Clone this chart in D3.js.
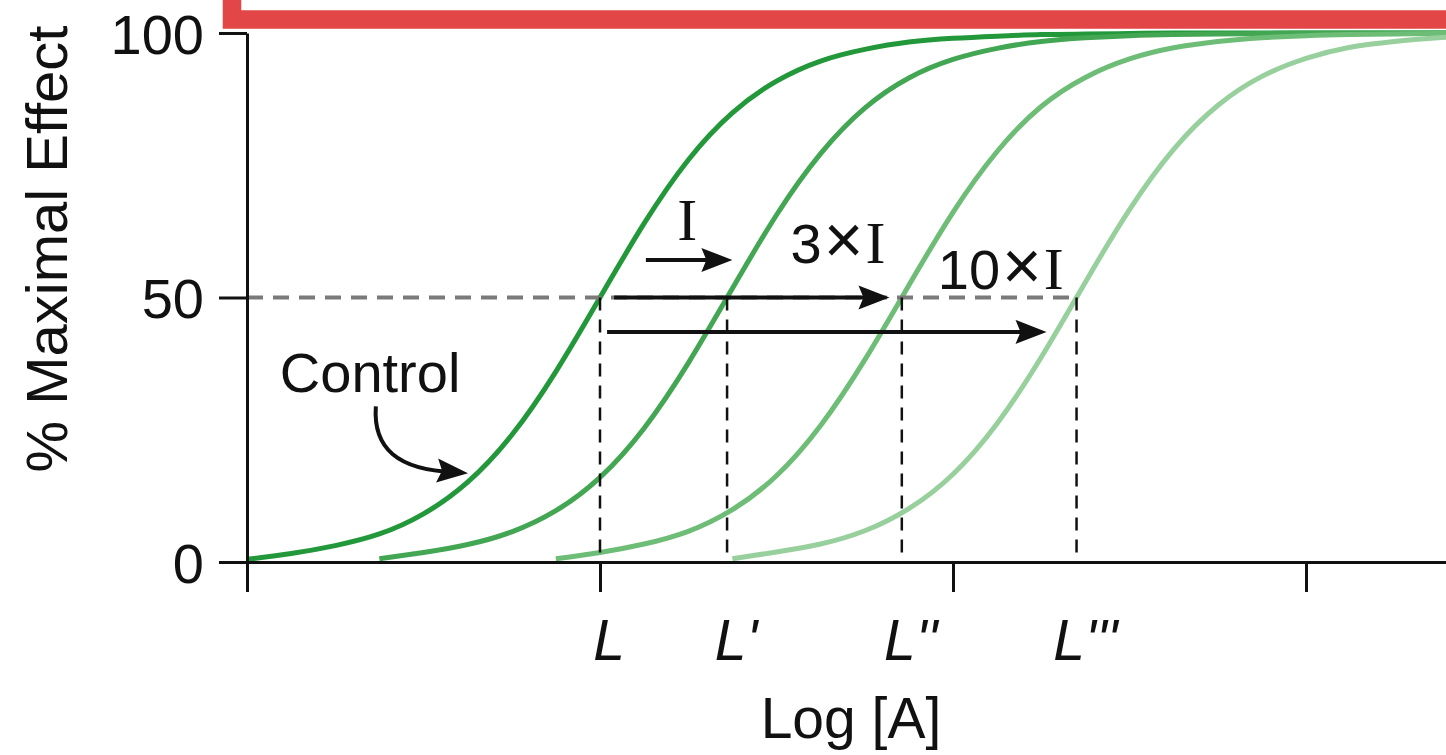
<!DOCTYPE html>
<html>
<head>
<meta charset="utf-8">
<script src="https://cdn.jsdelivr.net/npm/d3@7"></script>
<style>
  html, body { margin: 0; padding: 0; background: #fff; }
  svg { display: block; }
</style>
</head>
<body>
<svg id="chart" width="1446" height="755"></svg>
<script>
// Log agonist concentration (grid shared by all curves)
const logDose = [0, 0.125, 0.25, 0.375, 0.5, 0.625, 0.75, 0.875, 1.0, 1.125, 1.25, 1.375,
  1.5, 1.625, 1.75, 1.875, 2.0, 2.125, 2.25, 2.375, 2.5, 2.625, 2.75, 2.875, 3.0,
  3.125, 3.25, 3.375, 3.5];

// % maximal effect for each condition (null = not drawn)
const controlEffect = [0.5, 1.6, 3.1, 5.3, 9.1, 15.1, 24.0, 36.0, 50.0, 64.0, 76.0, 84.9,
  90.9, 94.7, 96.9, 98.3, 99.0, 99.4, 99.7, 99.8, 99.9, 100, 100, 100, 100, 100, 100, 100, 100];
const inhibitor1Effect = [null, null, null, 0.6, 1.8, 3.3, 5.7, 9.7, 16.0, 25.3, 37.6, 51.7,
  65.6, 77.2, 85.8, 91.5, 95.0, 97.1, 98.4, 99.1, 99.5, 99.7, 99.8, 99.9, 100, 100, 100, 100, 100];
const inhibitor3Effect = [null, null, null, null, null, null, null, 0.6, 1.8, 3.4, 5.8, 9.9,
  16.3, 25.8, 38.2, 52.3, 66.1, 77.6, 86.1, 91.6, 95.1, 97.2, 98.4, 99.1, 99.5, 99.7, 99.8, 99.9, 99.9];
const inhibitor10Effect = [null, null, null, null, null, null, null, null, null, null, null, 0.6,
  1.9, 3.4, 5.9, 10.1, 16.6, 26.2, 38.7, 52.9, 66.6, 78.0, 86.3, 91.8, 95.2, 97.3, 98.4, 99.1, 99.5];

const seriesNames = ["Control", "I", "3×I", "10×I"];
const seriesEffects = [controlEffect, inhibitor1Effect, inhibitor3Effect, inhibitor10Effect];
const seriesColors = ["#22983a", "#42a653", "#6ebd77", "#98d09d"];

// Half-maximal concentrations and their labels
const halfMaxDose = [1.0, 1.36, 1.855, 2.35];
const halfMaxLabels = ["L", "L'", "L''", "L'''"];

// Shift arrows: start dose, end dose, effect level
const shiftStart = [1.13, 1.04, 1.02];
const shiftEnd = [1.375, 1.82, 2.265];
const shiftLevel = [57.1, 50, 43.5];

const yTicks = [0, 50, 100];
const xTicks = [0, 1, 2, 3];

const svg = d3.select("#chart");
const x = d3.scaleLinear().domain([0, 3.4]).range([247, 247 + 3.4 * 353]);
const y = d3.scaleLinear().domain([0, 100]).range([562, 33]);

const SANS = "'Liberation Sans', Arial, Helvetica, sans-serif";
const SERIF = "'Liberation Serif', 'Times New Roman', serif";

// Highlight frame across the top
svg.append("rect")
  .attr("x", 232).attr("y", -60)
  .attr("width", 1400).attr("height", 79.5)
  .attr("fill", "none")
  .attr("stroke", "#e24646")
  .attr("stroke-width", 18.5);

// Dose-response curves
const line = d3.line()
  .defined(d => d[1] != null)
  .x(d => x(d[0]))
  .y(d => y(Math.min(d[1], 100)))
  .curve(d3.curveNatural);

seriesEffects.forEach((eff, i) => {
  svg.append("path")
    .datum(logDose.map((xd, j) => [xd, eff[j]]))
    .attr("d", line)
    .attr("fill", "none")
    .attr("stroke", seriesColors[i])
    .attr("stroke-width", 5);
});

// 50% reference line
svg.append("line")
  .attr("x1", x(0)).attr("x2", x(d3.max(halfMaxDose)))
  .attr("y1", y(50)).attr("y2", y(50))
  .attr("stroke", "#7a7a7a")
  .attr("stroke-width", 4)
  .attr("stroke-dasharray", "16 10");

// Drop lines at half-maximal doses
svg.selectAll(".drop")
  .data(halfMaxDose)
  .join("line")
  .attr("class", "drop")
  .attr("x1", d => x(d)).attr("x2", d => x(d))
  .attr("y1", y(50)).attr("y2", y(0))
  .attr("stroke", "#111")
  .attr("stroke-width", 2.5)
  .attr("stroke-dasharray", "13 9");

// Axes
const yAxis = d3.axisLeft(y).tickValues(yTicks).tickSize(28).tickSizeOuter(0).tickPadding(15);
const xAxis = d3.axisBottom(x).tickValues(xTicks).tickSize(30).tickSizeOuter(0).tickFormat("");

const gy = svg.append("g").attr("transform", `translate(${x(0)},0)`).call(yAxis);
const gx = svg.append("g").attr("transform", `translate(0,${y(0)})`).call(xAxis);

[gx, gy].forEach(g => {
  g.select(".domain").attr("stroke", "#111").attr("stroke-width", 3);
  g.selectAll(".tick line").attr("stroke", "#111").attr("stroke-width", 3);
});
gy.selectAll(".tick text")
  .attr("font-family", SANS)
  .attr("font-size", 56)
  .attr("fill", "#111")
  .attr("dy", "0.36em");

// Half-max dose labels under the axis
svg.selectAll(".hmlabel")
  .data(halfMaxLabels)
  .join("text")
  .attr("class", "hmlabel")
  .attr("x", (d, i) => x(halfMaxDose[i]) + 9)
  .attr("y", 660)
  .attr("text-anchor", "middle")
  .attr("font-family", SANS)
  .attr("font-style", "italic")
  .attr("font-size", 57)
  .attr("fill", "#111")
  .text(d => d);

// Axis titles
svg.append("text")
  .attr("x", 851).attr("y", 738)
  .attr("text-anchor", "middle")
  .attr("font-family", SANS)
  .attr("font-size", 57)
  .attr("fill", "#111")
  .text("Log [A]");

svg.append("text")
  .attr("transform", "translate(67,249) rotate(-90)")
  .attr("text-anchor", "middle")
  .attr("font-family", SANS)
  .attr("font-size", 58)
  .attr("fill", "#111")
  .text("% Maximal Effect");

// Arrow helpers
function arrowHead(tx, ty, angleDeg) {
  svg.append("path")
    .attr("d", "M0,0 L-31,-12 L-26,0 L-31,12 Z")
    .attr("transform", `translate(${tx},${ty}) rotate(${angleDeg})`)
    .attr("fill", "#111");
}

// Straight shift arrows
shiftStart.forEach((s, i) => {
  const x0 = x(s), x1 = x(shiftEnd[i]), yy = y(shiftLevel[i]);
  svg.append("line")
    .attr("x1", x0).attr("x2", x1 - 12)
    .attr("y1", yy).attr("y2", yy)
    .attr("stroke", "#111")
    .attr("stroke-width", 4);
  arrowHead(x1, yy, 0);
});

// Shift labels: sans numerals with serif "I"
function shiftLabel(xPos, yPos, num, anchor) {
  const t = svg.append("text")
    .attr("x", xPos).attr("y", yPos)
    .attr("text-anchor", anchor)
    .attr("fill", "#111");
  if (num) {
    t.append("tspan").attr("font-family", SANS).attr("font-size", 56).text(num);
    t.append("tspan").attr("font-family", SANS).attr("font-size", 68).attr("font-weight", 300).attr("dx", 2).text("×");
  }
  t.append("tspan").attr("font-family", SERIF).attr("font-size", 60).attr("dx", num ? 2 : 0).text("I");
}
shiftLabel((x(shiftStart[0]) + x(shiftEnd[0])) / 2 - 2, y(60.8), null, "middle");
shiftLabel(x(1.54), y(56.6), "3", "start");
shiftLabel(x(1.957), y(51.7), "10", "start");

// Control callout
svg.append("text")
  .attr("x", x(0.093)).attr("y", y(32.1))
  .attr("font-family", SANS)
  .attr("font-size", 56)
  .attr("fill", "#111")
  .text(seriesNames[0]);

const c0x = x(0.365), c0y = y(29.4);
const tipX = x(0.626), tipY = y(16.8);
svg.append("path")
  .attr("d", `M${c0x},${c0y} C${c0x - 3},${c0y + 42} ${c0x + 22},${tipY - 3} ${tipX - 14},${tipY - 1}`)
  .attr("fill", "none")
  .attr("stroke", "#111")
  .attr("stroke-width", 4);
arrowHead(tipX, tipY, 5);
</script>
</body>
</html>
